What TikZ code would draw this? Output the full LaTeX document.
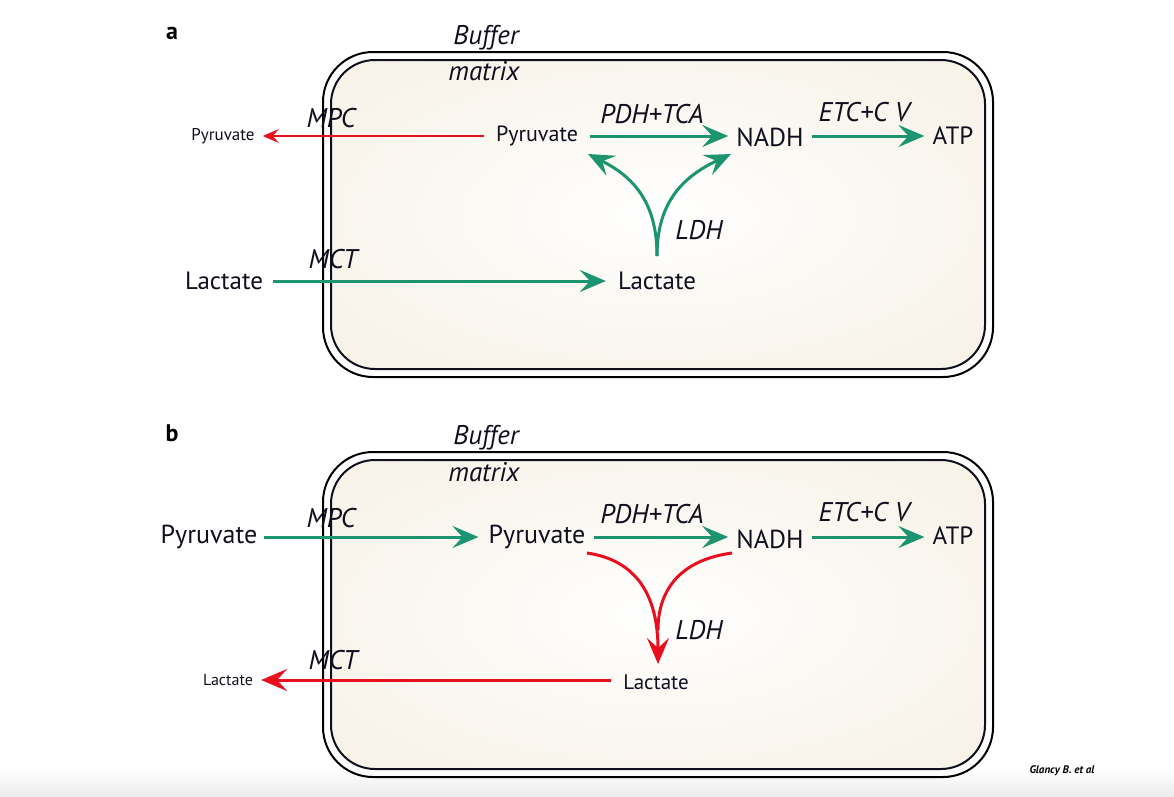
\documentclass[tikz,border=0pt]{standalone}
\usepackage{fontspec}
\setmainfont{PT Sans}
\usetikzlibrary{arrows.meta}
\definecolor{grn}{RGB}{28,148,112}
\definecolor{rd}{RGB}{232,16,30}
\definecolor{beige}{RGB}{244,237,223}
\definecolor{ink}{RGB}{15,15,30}
\pgfdeclareradialshading{glow}{\pgfpoint{0bp}{0bp}}{color(0bp)=(white); color(12bp)=(white!70!beige); color(50bp)=(beige)}
\tikzset{
  met/.style={inner sep=0pt, text=ink, font=\fontsize{#1}{#1}\selectfont},
  lab/.style={inner sep=0pt, text=ink, font=\itshape\fontsize{27}{29}\selectfont},
  garrow/.style={grn, line width=3pt, -{Stealth[length=26pt,width=22pt,inset=10pt]}},
  rarrowthin/.style={rd, line width=2pt, -{Stealth[length=16pt,width=14pt,inset=6pt]}},
  rarrow/.style={rd, line width=3pt, -{Stealth[length=26pt,width=22pt,inset=10pt]}},
  rline/.style={rd, line width=3pt},
  outerbox/.style={draw=black, line width=2pt, rounded corners=50pt},
  innerbox/.style={draw=ink, line width=2pt, rounded corners=44pt, shading=glow},
}
\begin{document}
\begin{tikzpicture}[x=1pt,y=-1pt]
\useasboundingbox (0,0) rectangle (1174,796);
\fill[white] (0,0) rectangle (1174,796);
\shade[top color=white, bottom color=gray!14] (0,768) rectangle (1174,796);

% ---------- panel a ----------
\draw[outerbox] (323,52) rectangle (993,377);
\path[innerbox] (331,60) rectangle (985,369);

\node[inner sep=0pt, font=\bfseries\fontsize{24}{24}\selectfont] (la) at (172,33) {a};
\node[lab] (bufa) at (486,38) {Buffer};
\node[lab] (mata) at (484,71) {matrix};

\node[met=17] (pyrOutA) at (223,136) {Pyruvate};
\node[met=22] (pyrA) at (537,136) {Pyruvate};
\node[met=26] (nadhA) at (770,137) {NADH};
\node[met=25] (atpA) at (953,136) {ATP};
\node[met=25] (lacOutA) at (224,281) {Lactate};
\node[met=25] (lacA) at (657,281) {Lactate};

\node[lab] (mpcA) at (331,118) {MPC};
\node[lab] (pdhA) at (652,114) {PDH+TCA};
\node[lab] (etcA) at (864,112) {ETC+C V};
\node[lab] (ldhA) at (699,230) {LDH};
\node[lab] (mctA) at (333,259) {MCT};

\coordinate (ldhbaseA) at (657,256);
\coordinate (ldhLA) at (588,154);
\coordinate (ldhRA) at (731,154);

\draw[rarrowthin] ([xshift=-12pt]pyrA.west) -- ([xshift=8pt]pyrA.west -| pyrOutA.east);
\draw[garrow] ([xshift=12pt]pyrA.east) -- ([xshift=-8pt]pyrA.east -| nadhA.west);
\draw[garrow] ([xshift=8pt]pyrA.east -| nadhA.east) -- ([xshift=-8pt]pyrA.east -| atpA.west);
\draw[garrow] ([xshift=10pt]lacOutA.east) -- ([xshift=-12pt]lacA.west);
\draw[garrow] (ldhbaseA) .. controls (657,205) and (636,178) .. (ldhLA);
\draw[garrow] (ldhbaseA) .. controls (657,205) and (680,178) .. (ldhRA);

% ---------- panel b ----------
\draw[outerbox] (323,452) rectangle (993,777);
\path[innerbox] (331,460) rectangle (985,769);

\node[inner sep=0pt, font=\bfseries\fontsize{24}{24}\selectfont] (lb) at (172,433) {b};
\node[lab] (bufb) at (486,438) {Buffer};
\node[lab] (matb) at (484,472) {matrix};

\node[met=26] (pyrOutB) at (209,537) {Pyruvate};
\node[met=26] (pyrB) at (537,537) {Pyruvate};
\node[met=26] (nadhB) at (770,539) {NADH};
\node[met=25] (atpB) at (953,536) {ATP};
\node[met=16] (lacOutB) at (228,680) {Lactate};
\node[met=21] (lacB) at (656,682) {Lactate};

\node[lab] (mpcB) at (331,518) {MPC};
\node[lab] (pdhB) at (652,514) {PDH+TCA};
\node[lab] (etcB) at (864,512) {ETC+C V};
\node[lab] (ldhB) at (699,630) {LDH};
\node[lab] (mctB) at (333,660) {MCT};

\coordinate (ldhLB) at (587,553);
\coordinate (ldhRB) at (732,553);
\coordinate (ldhtipB) at (658,664);
\coordinate (ldhjoinB) at (658,630);

\draw[garrow] ([xshift=6pt]pyrOutB.east) -- ([xshift=-10pt]pyrOutB.east -| pyrB.west);
\draw[garrow] ([xshift=8pt]pyrB.east) -- ([xshift=-8pt]pyrB.east -| nadhB.west);
\draw[garrow] ([xshift=8pt]pyrB.east -| nadhB.east) -- ([xshift=-8pt]pyrB.east -| atpB.west);
\draw[rarrow] ([xshift=-12pt]lacOutB.east -| lacB.west) -- ([xshift=8pt]lacOutB.east);
\draw[rline] (ldhRB) .. controls (680,560) and (658,590) .. (ldhjoinB);
\draw[rarrow] (ldhLB) .. controls (636,560) and (658,595) .. (ldhtipB);

\node[inner sep=0pt, font=\bfseries\itshape\fontsize{11}{11}\selectfont] (credit) at (1062,771) {Glancy B. et al};
\end{tikzpicture}
\end{document}
